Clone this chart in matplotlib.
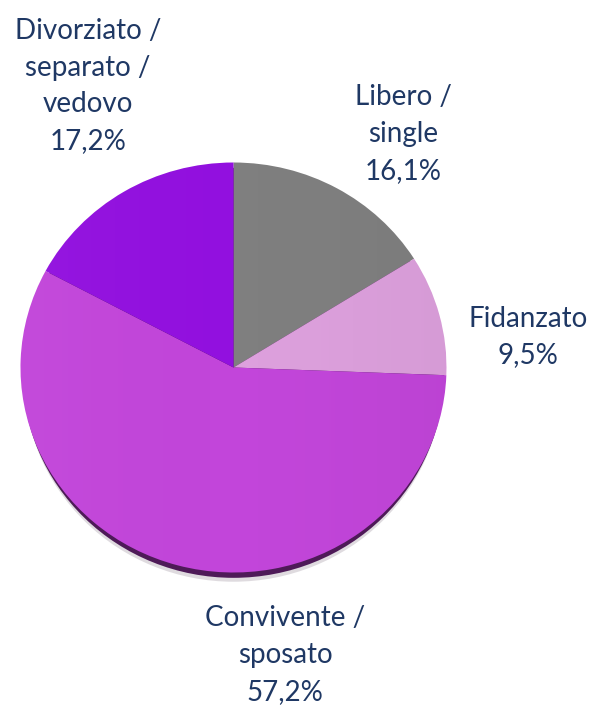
import matplotlib
matplotlib.use("Agg")
import numpy as np
import matplotlib.pyplot as plt
from matplotlib.patches import Ellipse

# Stato civile
categories = ["Libero /\nsingle", "Fidanzato", "Convivente /\nsposato", "Divorziato /\nseparato /\nvedovo"]
values = [16.1, 9.5, 57.2, 17.2]
colors = ["#7f7f7f", "#dda0dd", "#c245da", "#9210df"]

W, H = 594, 709
fig = plt.figure(figsize=(W / 100, H / 100), dpi=100)
fig.patch.set_facecolor("white")

# pie area in pixels (slightly squashed ellipse)
cx, cy, rx, ry = 233.5, 367.5, 213.0, 205.0
ax = fig.add_axes([(cx - rx) / W, (H - (cy + ry)) / H, 2 * rx / W, 2 * ry / H])
ax.axis("off")

wedges, _ = ax.pie(values, colors=colors, startangle=90, counterclock=False,
                   radius=1.0, wedgeprops=dict(linewidth=0))
for w in wedges:
    w.set_zorder(2)

# faint light-to-dark sheen across the disc
disc = Ellipse((0, 0), 2.0, 2.0, transform=ax.transData, facecolor="none", edgecolor="none")
ax.add_patch(disc)
grad = np.linspace(1, 0, 256)[None, :]
sheen = np.zeros((1, 256, 4))
sheen[..., :3] = grad[..., None]
sheen[..., 3] = 0.035 * np.abs(grad - 0.5) * 2
img = ax.imshow(sheen, extent=(-1, 1, -1, 1), aspect="auto", zorder=3, interpolation="bilinear")
img.set_clip_path(disc)

# drop shadow under the disc
ax.add_patch(Ellipse((0.0, -0.045), 1.97, 2.0, facecolor="#b8b0ba", edgecolor="none",
                     zorder=0, alpha=0.45, clip_on=False))
ax.add_patch(Ellipse((0.0, -0.026), 1.98, 2.0, facecolor="#4e1a58", edgecolor="none",
                     zorder=1, clip_on=False))

ax.set_aspect("auto")
ax.set_xlim(-1, 1)
ax.set_ylim(-1, 1)

txt_color = "#1f3864"
font = dict(family=["Lato", "DejaVu Sans"], fontsize=20, color=txt_color,
            ha="center", va="center", linespacing=1.52)

# label centres in pixels
label_pos = [(403, 134), (528, 337), (285, 655), (88, 86)]
for cat, val, (px, py) in zip(categories, values, label_pos):
    s = f"{cat}\n{val:.1f}%".replace(".", ",")
    fig.text(px / W, 1 - py / H, s, **font)

fig.savefig("out.png", dpi=100)
